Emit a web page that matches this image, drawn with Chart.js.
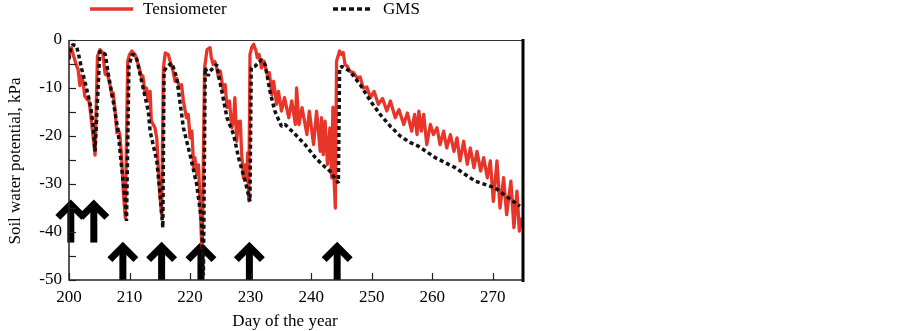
<!DOCTYPE html>
<html>
<head>
<meta charset="utf-8">
<script src="https://cdn.jsdelivr.net/npm/chart.js@4/dist/chart.umd.min.js"></script>
<style>
  body { margin: 0; background: #fff; }
  #wrap { width: 903px; height: 331px; position: relative; }
</style>
</head>
<body>
<div id="wrap"><canvas id="chart-0"></canvas></div>
<script>
const tensDays = [
  200.0, 200.4, 200.8, 201.1, 201.5, 201.8, 202.0, 202.3, 202.6, 203.0, 203.2, 203.5, 203.8, 204.1, 204.3,
  204.7, 205.1, 205.6, 205.9, 206.0, 206.2, 206.5, 206.8, 207.1, 207.3, 207.6, 207.9, 208.1, 208.4, 208.7, 209.0, 209.3,
  209.7, 210.0, 210.4, 210.9, 211.3, 211.6, 212.0, 212.2, 212.6, 212.8, 213.1, 213.4, 213.6, 214.2, 214.5, 214.8, 215.0, 215.3,
  215.6, 215.9, 216.4, 216.7, 217.2, 217.5, 217.8, 218.3, 218.6, 218.9, 219.4, 219.7, 220.0, 220.3, 220.6, 220.8, 221.1, 221.4, 221.7, 221.9, 222.0,
  222.4, 222.8, 223.3, 223.5, 223.8, 224.1, 224.4, 224.7, 225.0, 225.5, 225.8, 226.1, 226.5, 226.9, 227.2, 227.4, 227.7, 228.0, 228.3, 228.5, 228.8, 229.1, 229.4, 229.5, 229.7,
  229.9, 230.2, 230.5, 230.9, 231.1, 231.4, 231.8, 232.2, 232.9, 233.1, 233.5, 233.8, 234.3, 234.6, 235.1, 235.6, 236.3, 236.8, 237.4, 237.6, 238.0, 238.5,
  239.3, 239.7, 240.4, 240.9, 241.5, 241.7, 242.0, 242.3, 242.7, 243.1, 243.4, 243.6, 243.8, 244.0,
  244.2, 244.7, 245.0, 245.3, 245.6, 246.0, 246.4, 247.0, 247.6, 248.1, 248.6, 249.2, 249.8, 250.4, 251.1, 251.8, 252.5, 253.1, 253.9, 254.5,
  255.3, 255.9, 256.6, 257.1, 257.5, 257.8, 258.2, 258.6, 259.1, 259.7, 260.2, 260.8, 261.3, 261.9, 262.4, 263.0, 263.6, 264.1, 264.6, 265.2,
  265.8, 266.3, 266.9, 267.4, 268.0, 268.5, 269.1, 269.6, 270.1, 270.7, 271.2, 271.8, 272.3, 273.0, 273.5, 274.0, 274.4, 274.8
]
const tensKpa = [
  -3.4, -1.6, -3.5, -4.8, -6.1, -9.5, -7.5, -8.5, -11.7, -12.4, -12.0, -14.5, -18.0, -21.5, -24.0,
  -3.4, -2.0, -2.7, -6.5, -7.2, -6.5, -7.9, -9.5, -11.7, -11.0, -14.5, -19.3, -18.5, -19.7, -24.5, -32.2, -37.0,
  -4.4, -3.0, -2.3, -3.0, -4.5, -5.8, -7.9, -7.5, -11.4, -10.0, -12.7, -10.7, -16.9, -18.3, -20.4, -28.0, -32.2, -36.4,
  -5.8, -2.7, -3.0, -4.4, -6.5, -8.6, -8.0, -10.0, -9.3, -12.7, -16.2, -15.5, -20.4, -19.0, -26.6, -24.5, -28.0, -26.0, -35.7, -41.9, -43.3,
  -5.8, -2.0, -1.6, -3.5, -5.1, -4.5, -5.8, -7.9, -6.5, -10.7, -9.3, -14.1, -12.7, -18.3, -16.5, -12.0, -21.1, -17.0, -16.9, -23.2, -28.7, -26.0, -29.4, -23.5, -33.5,
  -3.0, -1.5, -0.9, -2.3, -3.7, -3.0, -5.8, -4.4, -7.9, -6.8, -11.4, -8.6, -13.4, -10.7, -14.8, -12.0, -16.2, -12.7, -17.6, -10.0, -17.6, -14.1,
  -19.7, -14.8, -21.8, -14.8, -23.2, -16.2, -23.9, -16.9, -25.9, -18.3, -28.7, -14.0, -29.4, -35.0,
  -4.4, -2.3, -3.0, -2.6, -5.1, -5.5, -6.5, -6.8, -7.9, -7.7, -10.0, -9.8, -12.0, -10.7, -13.4, -12.2, -14.8, -12.7, -16.2, -14.5,
  -17.6, -15.2, -19.0, -15.5, -19.7, -14.8, -19.0, -15.5, -21.8, -17.6, -19.7, -18.3, -21.8, -19.0, -22.5, -19.7, -23.2, -20.4, -25.2, -21.1,
  -25.9, -22.5, -26.6, -23.2, -27.3, -24.5, -28.7, -25.2, -33.6, -25.2, -35.0, -28.7, -36.4, -29.4, -39.1, -31.5, -39.8, -37.0
]

const gmsDays = [
  200.0, 200.3, 200.6, 201.2, 201.5, 202.1, 202.6, 203.2, 203.6, 204.0, 204.3,
  205.1, 205.5, 206.0, 206.5, 207.3, 208.1, 208.7, 209.3, 209.5,
  209.9, 210.4, 210.8, 211.2, 212.0, 213.1, 213.4, 214.5, 215.0, 215.5,
  215.7, 216.2, 217.0, 217.8, 218.9, 220.0, 221.1, 221.9, 222.2,
  222.5, 223.0, 223.3, 224.4, 224.7, 226.1, 227.2, 228.0, 229.1, 229.9,
  230.1, 230.7, 231.8, 232.4, 233.2, 234.0, 235.1, 235.7, 237.4, 239.0, 240.7, 241.8, 243.1, 244.5,
  244.7, 245.1, 246.4, 248.1, 249.8, 251.4, 253.1, 254.7, 256.4, 257.7, 260.5, 263.8, 267.1, 270.4, 272.6, 274.5
]
const gmsKpa = [
  -4.0, -1.5, -1.0, -1.2, -2.5, -6.1, -8.5, -11.7, -14.0, -18.0, -23.2,
  -2.3, -2.5, -3.0, -7.2, -12.7, -19.0, -26.6, -33.6, -37.7,
  -5.5, -3.0, -3.2, -4.0, -8.6, -14.8, -19.0, -25.2, -31.5, -39.1,
  -6.5, -5.5, -4.8, -7.9, -18.3, -23.9, -30.1, -37.7, -49.0,
  -5.8, -7.5, -6.5, -5.1, -7.2, -16.2, -19.7, -24.5, -29.4, -33.6,
  -5.8, -5.5, -4.1, -5.1, -10.7, -14.8, -18.0, -17.6, -19.7, -21.8, -24.5, -25.9, -27.3, -29.8,
  -5.8, -5.5, -6.5, -9.3, -12.7, -15.5, -18.0, -20.0, -21.4, -22.1, -24.5, -26.6, -29.4, -30.8, -32.9, -34.6
]

// irrigation arrows: day, tip and base (kPa)
const arrowDays = [200.3, 204.1, 208.9, 215.3, 221.8, 229.8, 244.3]
const arrowTip = [-33.2, -33.2, -42, -42, -42, -42, -42]
const arrowBase = [-42.2, -42.2, -50, -50, -50, -50, -50]

const seriesNames = ['Tensiometer', 'GMS']
const xTitle = 'Day of the year'
const yTitle = 'Soil water potential, kPa'

const red = '#e8352a'
const dark = '#111111'
const font = '"Liberation Serif", "Times New Roman", serif'

const framePlugin = {
  id: 'frame',
  beforeDatasetsDraw(chart) {
    const ctx = chart.ctx
    const x = chart.scales.x
    const y = chart.scales.y
    ctx.save()
    ctx.strokeStyle = '#000'
    ctx.lineWidth = 7
    ctx.lineCap = 'butt'
    ctx.lineJoin = 'miter'
    ctx.miterLimit = 10
    arrowDays.forEach((d, i) => {
      const px = x.getPixelForValue(d)
      const tip = y.getPixelForValue(arrowTip[i])
      const base = y.getPixelForValue(arrowBase[i])
      ctx.beginPath()
      ctx.moveTo(px, base)
      ctx.lineTo(px, tip + 4)
      ctx.stroke()
      ctx.beginPath()
      ctx.moveTo(px - 13, tip + 18)
      ctx.lineTo(px, tip + 5)
      ctx.lineTo(px + 13, tip + 18)
      ctx.stroke()
    })
    ctx.restore()
  },
  afterDraw(chart) {
    const ctx = chart.ctx
    const a = chart.chartArea
    const x = chart.scales.x
    const y = chart.scales.y
    ctx.save()
    // top border
    ctx.strokeStyle = '#333'
    ctx.lineWidth = 1
    ctx.beginPath()
    ctx.moveTo(a.left, a.top + 0.5)
    ctx.lineTo(a.right, a.top + 0.5)
    ctx.stroke()
    // right border
    ctx.strokeStyle = '#000'
    ctx.lineWidth = 3
    ctx.beginPath()
    ctx.moveTo(a.right, a.top - 1)
    ctx.lineTo(a.right, a.bottom + 2)
    ctx.stroke()
    // left and bottom axes
    ctx.lineWidth = 1.5
    ctx.strokeStyle = '#222'
    ctx.beginPath()
    ctx.moveTo(a.left, a.top)
    ctx.lineTo(a.left, a.bottom)
    ctx.lineTo(a.right, a.bottom)
    ctx.stroke()
    // inward tick marks
    ctx.lineWidth = 1.2
    x.ticks.forEach(t => {
      const px = Math.round(x.getPixelForValue(t.value)) + 0.5
      ctx.beginPath()
      ctx.moveTo(px, a.bottom)
      ctx.lineTo(px, a.bottom - 7)
      ctx.stroke()
    })
    y.ticks.forEach(t => {
      const py = Math.round(y.getPixelForValue(t.value)) + 0.5
      ctx.beginPath()
      ctx.moveTo(a.left, py)
      ctx.lineTo(a.left + 7, py)
      ctx.stroke()
    })
    // axis titles
    ctx.fillStyle = '#000'
    ctx.font = '17px ' + font
    ctx.textAlign = 'center'
    ctx.textBaseline = 'middle'
    ctx.fillText(xTitle, 285, 322)
    ctx.save()
    ctx.translate(16, 161)
    ctx.rotate(-Math.PI / 2)
    ctx.fillText(yTitle, 0, 0)
    ctx.restore()
    // legend
    ctx.lineWidth = 3.5
    ctx.strokeStyle = red
    ctx.beginPath()
    ctx.moveTo(90, 9)
    ctx.lineTo(133, 9)
    ctx.stroke()
    ctx.strokeStyle = dark
    ctx.setLineDash([5, 3])
    ctx.beginPath()
    ctx.moveTo(333, 9)
    ctx.lineTo(371, 9)
    ctx.stroke()
    ctx.setLineDash([])
    ctx.textAlign = 'left'
    ctx.fillText(seriesNames[0], 143, 10)
    ctx.fillText(seriesNames[1], 383, 10)
    ctx.restore()
  }
}

const config = {
  type: 'line',
  data: {
    datasets: [
      {
        label: seriesNames[0],
        data: tensDays.map((d, i) => ({ x: d, y: tensKpa[i] })),
        borderColor: red,
        borderWidth: 3.3,
        borderJoinStyle: 'round',
        order: 1
      },
      {
        label: seriesNames[1],
        data: gmsDays.map((d, i) => ({ x: d, y: gmsKpa[i] })),
        borderColor: dark,
        borderWidth: 3.5,
        borderDash: [4, 3],
        borderCapStyle: 'butt',
        borderJoinStyle: 'bevel',
        order: 0
      }
    ]
  },
  options: {
    animation: false,
    responsive: true,
    maintainAspectRatio: false,
    elements: {
      point: { radius: 0 },
      line: { tension: 0 }
    },
    layout: {
      padding: { left: 0, right: 380, top: 40, bottom: 0 }
    },
    scales: {
      x: {
        type: 'linear',
        min: 200,
        max: 275,
        grid: { display: false, drawTicks: false },
        border: { display: false },
        afterFit(scale) { scale.height = 51 },
        ticks: {
          stepSize: 10,
          includeBounds: false,
          padding: 7,
          color: '#000',
          font: { family: font, size: 17 },
          maxRotation: 0
        }
      },
      y: {
        min: -50,
        max: 0,
        grid: { display: false, drawTicks: false },
        border: { display: false },
        afterFit(scale) { scale.width = 69 },
        ticks: {
          stepSize: 5,
          padding: 7,
          color: '#000',
          font: { family: font, size: 17 },
          callback: v => (v % 10 === 0 ? String(v) : '')
        }
      }
    },
    plugins: {
      legend: { display: false },
      tooltip: { enabled: false }
    }
  },
  plugins: [framePlugin]
}

new Chart(document.getElementById('chart-0'), config)
</script>
</body>
</html>
